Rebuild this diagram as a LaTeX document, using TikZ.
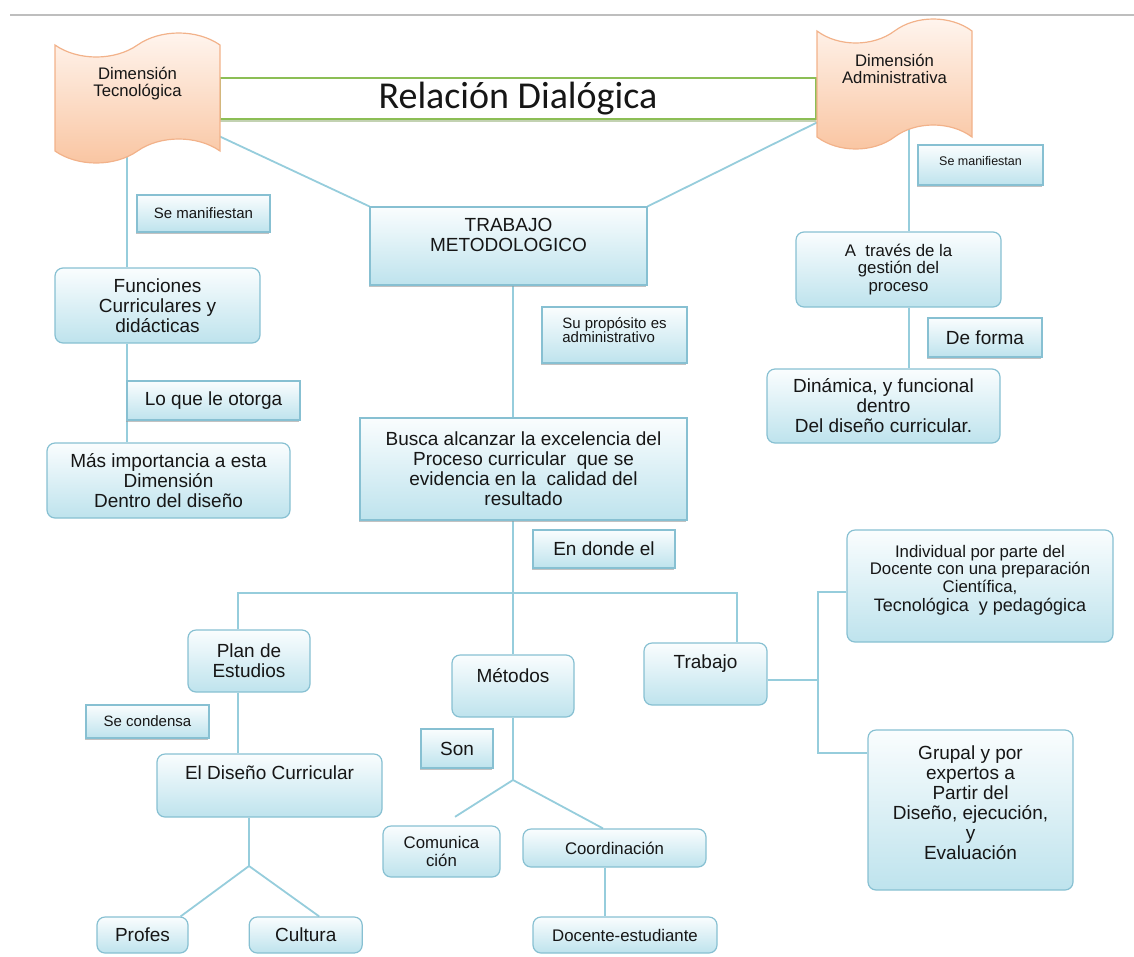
\documentclass[tikz,border=0pt]{standalone}
\usepackage{fontspec}
\setmainfont{Liberation Sans}
\newfontfamily\titlefont{Carlito}
\usetikzlibrary{shapes,shadows,positioning}

\definecolor{linecol}{RGB}{150,205,220}
\definecolor{boxline}{RGB}{135,192,210}
\definecolor{boxtop}{RGB}{250,253,254}
\definecolor{boxbot}{RGB}{190,227,237}
\definecolor{ink}{RGB}{22,22,22}
\definecolor{tapeline}{RGB}{242,178,138}
\definecolor{tapetop}{RGB}{255,246,240}
\definecolor{tapebot}{RGB}{249,196,160}
\definecolor{dialog}{RGB}{140,190,85}
\definecolor{rulegray}{RGB}{190,190,190}

\pgfdeclarelayer{background}
\pgfsetlayers{background,main}

\begin{document}
\begin{tikzpicture}[
    x=1pt, y=-1pt,
    % Define styles for different types of blocks
    block/.style={
        rectangle,
        draw=boxline,
        line width=1.2pt,
        top color=boxtop,
        bottom color=boxbot,
        text=ink,
        align=center,
        inner sep=2pt,
        font=\fontsize{19}{20}\selectfont
    },
    round_block/.style={
        block,
        rounded corners=8pt
    },
    tag_block/.style={
        block,
        drop shadow={shadow xshift=-1pt, shadow yshift=-2pt, fill=black!40, opacity=0.6}
    },
    dialog_block/.style={
        rectangle,
        draw=dialog,
        line width=2pt,
        fill=white,
        text=ink,
        drop shadow={shadow xshift=0pt, shadow yshift=-3pt, fill=dialog!60!gray, opacity=0.5},
        font=\titlefont\fontsize{38}{38}\selectfont
    },
    banner/.style={
        tape,
        draw=tapeline,
        line width=1.2pt,
        top color=tapetop,
        bottom color=tapebot,
        text=ink,
        align=center,
        tape bend height=24pt,
        font=\fontsize{16.7}{17}\selectfont
    },
    small/.style={font=\fontsize{15}{14}\selectfont},
    mid/.style={font=\fontsize{16.8}{17.5}\selectfont},
    toptext/.style={text depth=#1},
    dims/.style 2 args={minimum width=#1pt, minimum height=#2pt},
    line/.style={
        draw=linecol,
        line width=1.8pt
    }
]
\useasboundingbox (0,0) rectangle (1134,956);

% Rule at the top
\draw[rulegray, line width=1.5pt] (10,15) -- (1134,15);

% Place the blocks
\node[dialog_block, dims={596}{41}] (dialogo) at (518,98.5) {Relación Dialógica};
\node[banner, dims={165}{130}, toptext=33pt] (tecno) at (137.5,98) {Dimensión\\Tecnológica};
\node[banner, dims={155}{130}, toptext=30pt] (admin) at (894.5,84) {Dimensión\\Administrativa};

% Left column
\node[tag_block, small, dims={133}{37}] (manif_t) at (203.5,213.5) {Se manifiestan};
\node[round_block, dims={205}{75}] (funciones) at (157.5,305.5) {Funciones\\Curriculares y\\didácticas};
\node[tag_block, dims={173}{39}] (otorga) at (213.5,400.5) {Lo que le otorga};
\node[round_block, dims={243}{75}] (importancia) at (168.5,480.5) {Más importancia a esta\\Dimensión\\Dentro del diseño};

% Centre column
\node[tag_block, dims={277}{78}, toptext=22pt] (metodologico) at (508.5,246) {TRABAJO\\METODOLOGICO};
\node[tag_block, small, align=left, dims={145}{56}, toptext=10pt] (proposito) at (614.5,335) {Su propósito es\\administrativo};
\node[tag_block, dims={327}{102}] (busca) at (523.5,469) {Busca alcanzar la excelencia del\\Proceso curricular~ que se\\evidencia en la~ calidad del\\resultado};
\node[tag_block, dims={142}{38}] (endonde) at (604,549) {En donde el};

% Plan de estudios branch
\node[round_block, dims={122}{62}] (plan) at (249,661) {Plan de\\Estudios};
\node[tag_block, small, dims={123}{33}] (condensa) at (147.5,721.5) {Se condensa};
\node[round_block, dims={225}{63}, toptext=25pt] (diseno) at (269.5,785.5) {El Diseño Curricular};
\node[round_block, dims={91}{36}] (profes) at (142.5,935) {Profes};
\node[round_block, dims={113}{36}, right=60pt of profes] (cultura) {Cultura};

% Metodos branch
\node[round_block, dims={122}{62}, toptext=22pt] (metodos) at (513,686) {Métodos};
\node[tag_block, dims={72}{39}] (son) at (457,748.5) {Son};
\node[round_block, mid, dims={117}{51}] (comunica) at (441.5,851.5) {Comunica\\ción};
\node[round_block, mid, dims={183}{38}] (coordinacion) at (614.5,848) {Coordinación};
\node[round_block, mid, dims={184}{36}] (docente) at (625,935) {Docente-estudiante};

% Trabajo branch
\node[round_block, dims={123}{62}, toptext=24pt] (trabajo) at (705.5,674) {Trabajo};
\node[round_block, mid, dims={266}{112}, toptext=15pt] (individual) at (980,586) {Individual por parte del\\Docente con una preparación\\Científica,\\[2pt]{\fontsize{18}{18}\selectfont Tecnológica~ y pedagógica}};
\node[round_block, dims={205}{160}, toptext=14pt] (grupal) at (970.5,810) {Grupal y por\\expertos a\\Partir del\\Diseño, ejecución,\\y\\Evaluación};

% Right column
\node[tag_block, font=\fontsize{12.5}{13}\selectfont, dims={125}{40}, toptext=9pt] (manif_a) at (980.5,165) {Se manifiestan};
\node[round_block, mid, dims={205}{75}] (traves) at (898.5,269.5) {A~ través de la\\gestión del\\proceso};
\node[tag_block, dims={114}{39}] (deforma) at (985,337.5) {De forma};
\node[round_block, dims={233}{74}] (dinamica) at (883.5,406) {Dinámica, y funcional\\dentro\\Del diseño curricular.};

% Draw the connections
\begin{pgfonlayer}{background}
\coordinate (tcol) at (127,0);
\coordinate (acol) at (909,0);
\coordinate (ccol) at (513,0);
\coordinate (pcol) at (238,0);
\coordinate (wcol) at (737,0);
\coordinate (bar) at (0,593);
\coordinate (dfork) at (249,866);
\coordinate (mfork) at (513,780);
\coordinate (wfork) at (818,680);

% Dimension Tecnologica column
\draw[line] (tecno.center -| tcol) -- (funciones.north -| tcol);
\draw[line] (funciones.south -| tcol) -- (importancia.north -| tcol);

% Both dimensions to TRABAJO METODOLOGICO
\draw[line] (tecno.center) -- (metodologico.north west);
\draw[line] (admin.center) -- (metodologico.north east);

% Dimension Administrativa column
\draw[line] (admin.center -| acol) -- (traves.north -| acol);
\draw[line] (traves.south -| acol) -- (dinamica.north -| acol);

% Centre column and the bar
\draw[line] (metodologico.south -| ccol) -- (busca.north -| ccol);
\draw[line] (busca.south -| ccol) -- (metodos.north -| ccol);
\draw[line] (plan.north -| pcol) |- (bar -| ccol) -| (trabajo.north -| wcol);

% Plan de Estudios down to Profes and Cultura
\draw[line] (plan.south -| pcol) -- (diseno.north -| pcol);
\draw[line] (diseno.south -| dfork) -- (dfork);
\draw[line] (dfork) -- ([xshift=-8pt]profes.north east);
\draw[line] (dfork) -- ([xshift=13.5pt]cultura.north);

% Metodos down to its parts
\draw[line] (metodos.south -| mfork) -- (mfork);
\draw[line, shorten >=16pt] (mfork) -- (comunica.north);
\draw[line] (mfork) -- ([xshift=-11.5pt]coordinacion.north);
\draw[line] ([xshift=-9.5pt]coordinacion.south) -- ([xshift=-9.5pt]coordinacion.south |- docente.north);

% Trabajo to Individual and Grupal
\draw[line] (trabajo.east |- wfork) -- (wfork);
\draw[line] ([yshift=-6pt]individual.west) -| (wfork);
\draw[line] (wfork) |- ([yshift=57pt]grupal.west);
\end{pgfonlayer}

\end{tikzpicture}
\end{document}
